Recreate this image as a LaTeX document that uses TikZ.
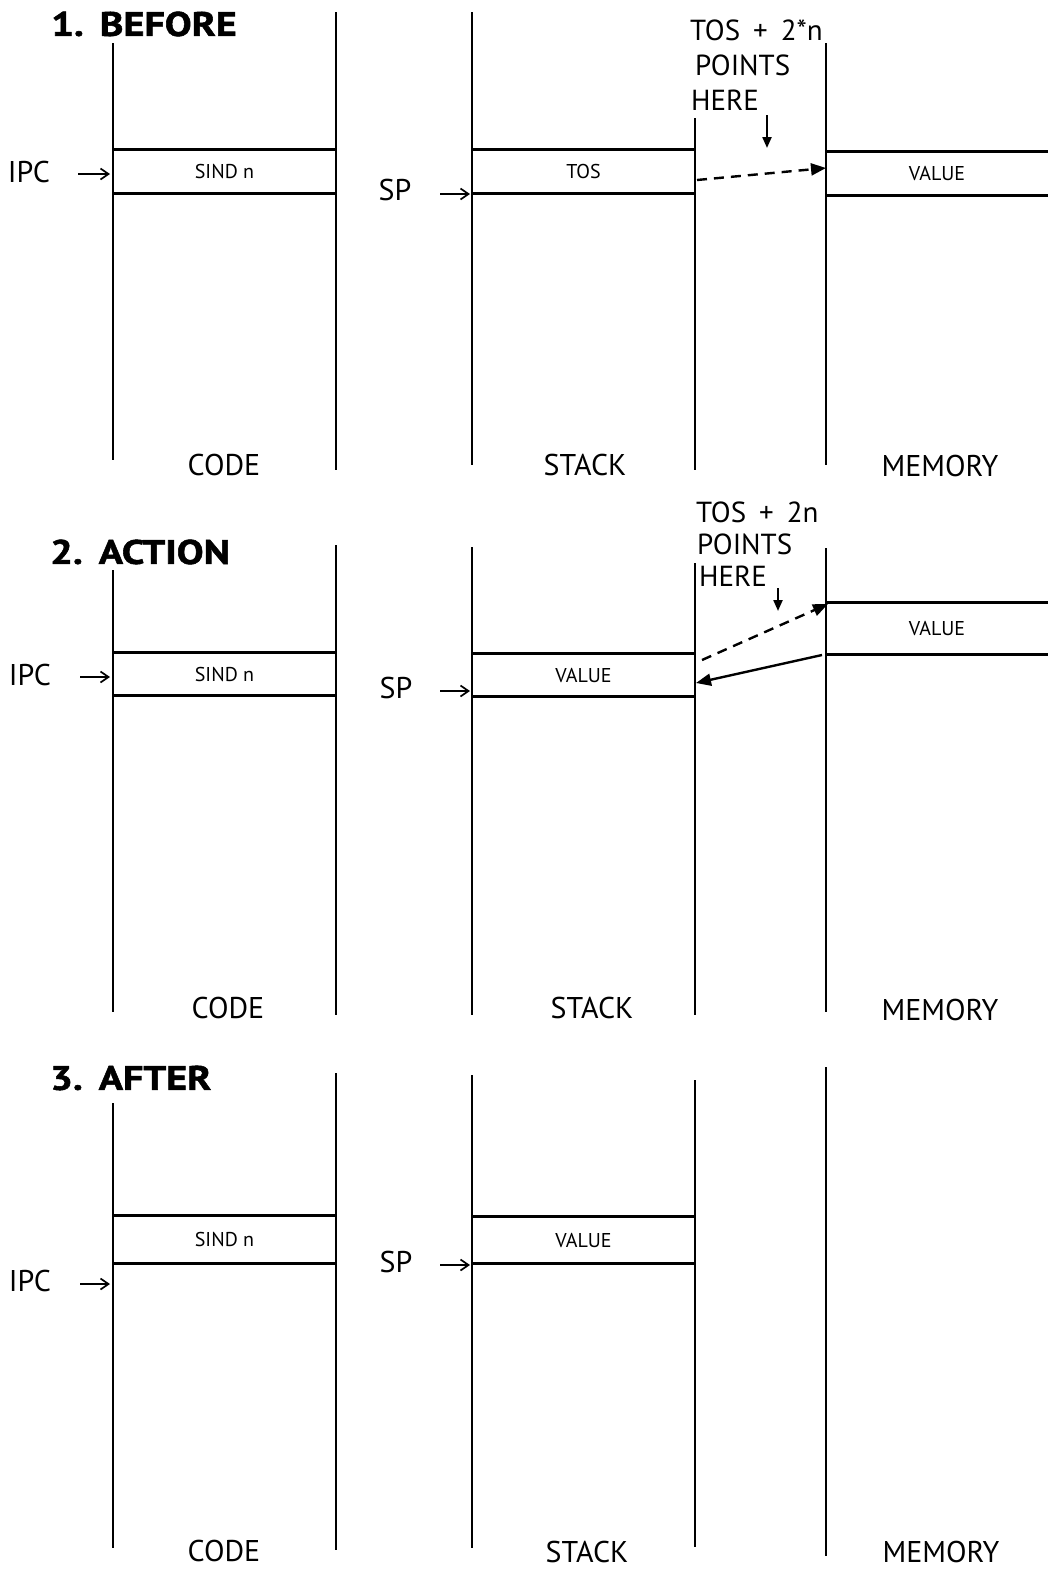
\documentclass[tikz,border=0pt]{standalone}
\usepackage{fontspec}
\setmainfont{PT Sans}
\newfontfamily\ttlfont{PT Sans}[FakeStretch=1.18, BoldFeatures={FakeBold=1.6}]
\usetikzlibrary{arrows.meta}
\begin{document}
\begin{tikzpicture}[x=1pt,y=-1pt,
  colline/.style={line width=1.8pt},
  slotline/.style={line width=3pt},
  cellbox/.style={inner sep=0pt, minimum width=223pt, font=\fontsize{20}{20}\selectfont},
  lbl/.style={inner sep=0pt, font=\fontsize{30}{30}\selectfont},
  note/.style={inner sep=0pt, anchor=west, font=\fontsize{29}{29}\selectfont},
  ttl/.style={inner sep=0pt, anchor=west, font=\ttlfont\bfseries\fontsize{34}{34}\selectfont},
  ptr/.style={line width=1.7pt, -{Straight Barb[length=8pt,width=11pt]}},
  dashptr/.style={line width=2.4pt, dash pattern=on 10pt off 7pt, -{Triangle[length=15pt,width=12pt]}},
  solidptr/.style={line width=2.4pt, -{Triangle[length=15pt,width=12pt]}},
  downptr/.style={line width=2.2pt, -{Triangle[length=11pt,width=9pt]}}
]
\useasboundingbox (0,0) rectangle (1048,1569);
\fill[white] (0,0) rectangle (1048,1569);

% ================= PANEL 1 =================
\node[ttl] (t1) at (51,24) {1.\hspace{16pt}BEFORE};
\draw[colline] (113,43) -- (113,460);
\draw[colline] (336,12) -- (336,470);
\draw[colline] (472,12) -- (472,465);
\draw[colline] (695,118) -- (695,470);
\draw[colline] (826,43) -- (826,465);

\node[cellbox, minimum height=43pt] (c1) at (224.5,171.5) {SIND n};
\draw[slotline] (c1.north west) -- (c1.north east) (c1.south west) -- (c1.south east);
\node[cellbox, minimum height=43pt] (s1) at (583.5,171.5) {TOS};
\draw[slotline] (s1.north west) -- (s1.north east) (s1.south west) -- (s1.south east);
\node[cellbox, minimum width=222pt, minimum height=43pt] (m1) at (937,173.5) {VALUE};
\draw[slotline] (m1.north west) -- (m1.north east) (m1.south west) -- (m1.south east);

\node[lbl] (ipc1) at (29,172) {IPC};
\coordinate (ipc1a) at (78,174);
\coordinate (ipc1b) at (110,174);
\draw[ptr] (ipc1a) -- (ipc1b);
\node[lbl] (sp1) at (395,190) {SP};
\coordinate (sp1a) at (440,194);
\coordinate (sp1b) at (470,194);
\draw[ptr] (sp1a) -- (sp1b);

\node[note] (n1a) at (690,30) {TOS\hspace{13pt}+\hspace{13pt}2*n};
\node[note] (n1b) at (695,65) {POINTS};
\node[note] (n1c) at (691,100) {HERE};
\coordinate (d1a) at (767,115);
\coordinate (d1b) at (767,148);
\draw[downptr] (d1a) -- (d1b);
\coordinate (h1a) at (697,180);
\coordinate (h1b) at (826,168);
\draw[dashptr] (h1a) -- (h1b);

\node[lbl] (code1) at (224,465) {CODE};
\node[lbl] (stack1) at (585,465) {STACK};
\node[lbl] (mem1) at (940,466) {MEMORY};

% ================= PANEL 2 =================
\node[ttl] (t2) at (50,552) {2.\hspace{16pt}ACTION};
\draw[colline] (113,570) -- (113,1012);
\draw[colline] (336,545) -- (336,1015);
\draw[colline] (472,547) -- (472,1015);
\draw[colline] (695,563) -- (695,1015);
\draw[colline] (826,548) -- (826,1012);

\node[cellbox, minimum height=42pt] (c2) at (224.5,674) {SIND n};
\draw[slotline] (c2.north west) -- (c2.north east) (c2.south west) -- (c2.south east);
\node[cellbox, minimum height=42pt] (s2) at (583.5,675) {VALUE};
\draw[slotline] (s2.north west) -- (s2.north east) (s2.south west) -- (s2.south east);
\node[cellbox, minimum width=222pt, minimum height=51pt] (m2) at (937,628.5) {VALUE};
\draw[slotline] (m2.north west) -- (m2.north east) (m2.south west) -- (m2.south east);

\node[lbl] (ipc2) at (30,675) {IPC};
\coordinate (ipc2a) at (80,677);
\coordinate (ipc2b) at (110,677);
\draw[ptr] (ipc2a) -- (ipc2b);
\node[lbl] (sp2) at (396,688) {SP};
\coordinate (sp2a) at (440,691);
\coordinate (sp2b) at (470,691);
\draw[ptr] (sp2a) -- (sp2b);

\node[note] (n2a) at (696,512) {TOS\hspace{13pt}+\hspace{13pt}2n};
\node[note] (n2b) at (697,544) {POINTS};
\node[note] (n2c) at (699,576) {HERE};
\coordinate (d2a) at (778,588);
\coordinate (d2b) at (778,611);
\draw[downptr] (d2a) -- (d2b);
\coordinate (h2a) at (702,660);
\coordinate (h2b) at (828,604);
\draw[dashptr] (h2a) -- (h2b);
\coordinate (r2a) at (822,655);
\coordinate (r2b) at (696,683);
\draw[solidptr] (r2a) -- (r2b);

\node[lbl] (code2) at (228,1008) {CODE};
\node[lbl] (stack2) at (592,1008) {STACK};
\node[lbl] (mem2) at (940,1010) {MEMORY};

% ================= PANEL 3 =================
\node[ttl] (t3) at (50,1078) {3.\hspace{16pt}AFTER};
\draw[colline] (113,1103) -- (113,1548);
\draw[colline] (336,1073) -- (336,1550);
\draw[colline] (472,1075) -- (472,1548);
\draw[colline] (695,1080) -- (695,1547);
\draw[colline] (826,1067) -- (826,1556);

\node[cellbox, minimum height=47pt] (c3) at (224.5,1239.5) {SIND n};
\draw[slotline] (c3.north west) -- (c3.north east) (c3.south west) -- (c3.south east);
\node[cellbox, minimum height=46pt] (s3) at (583.5,1240) {VALUE};
\draw[slotline] (s3.north west) -- (s3.north east) (s3.south west) -- (s3.south east);

\node[lbl] (ipc3) at (30,1281) {IPC};
\coordinate (ipc3a) at (80,1284);
\coordinate (ipc3b) at (110,1284);
\draw[ptr] (ipc3a) -- (ipc3b);
\node[lbl] (sp3) at (396,1262) {SP};
\coordinate (sp3a) at (440,1265);
\coordinate (sp3b) at (470,1265);
\draw[ptr] (sp3a) -- (sp3b);

\node[lbl] (code3) at (224,1551) {CODE};
\node[lbl] (stack3) at (587,1552) {STACK};
\node[lbl] (mem3) at (941,1552) {MEMORY};
\end{tikzpicture}
\end{document}
